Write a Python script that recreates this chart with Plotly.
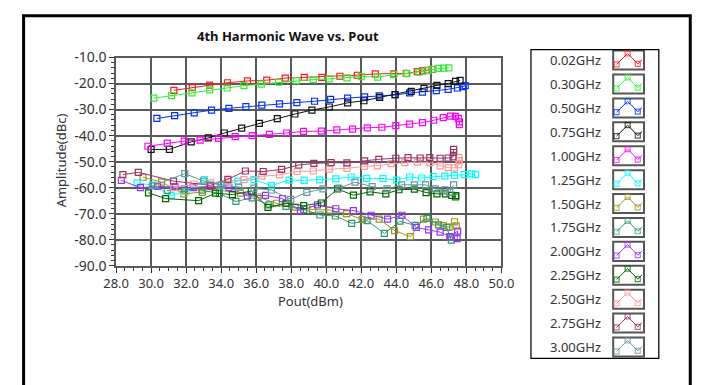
import plotly.graph_objects as go

W, H = 710, 385

labels = ["0.02GHz", "0.30GHz", "0.50GHz", "0.75GHz", "1.00GHz", "1.25GHz", "1.50GHz",
          "1.75GHz", "2.00GHz", "2.25GHz", "2.50GHz", "2.75GHz", "3.00GHz"]
colors = ["#ff1a1a", "#33ee33", "#0033ff", "#111111", "#ff00ff", "#00ffff", "#999922",
          "#33996a", "#9933ff", "#006600", "#ff9999", "#993366", "#669999"]

x_002 = [31.3, 32.35, 33.34, 34.36, 35.5, 36.6, 37.66, 38.74, 39.75, 40.78, 41.77, 42.8, 43.84, 44.57, 45.2, 45.5, 45.77, 46.04]
y_002 = [-22.6, -21.6, -20.6, -19.7, -19.0, -18.7, -17.9, -17.6, -17.6, -17.2, -16.8, -16.3, -16.3, -16.1, -15.4, -15.1, -14.9, -14.6]

x_030 = [30.15, 31.17, 32.33, 33.34, 34.34, 35.3, 36.29, 37.28, 38.29, 39.26, 40.17, 41.18, 42.0, 42.93, 43.85, 44.6, 45.3, 45.8, 46.1, 46.4, 46.7, 47.0]
y_030 = [-25.6, -24.6, -23.6, -22.4, -21.7, -20.8, -20.2, -19.5, -18.9, -18.5, -18.2, -17.8, -17.3, -17.5, -16.6, -16.2, -15.6, -15.0, -14.5, -14.2, -14.1, -14.0]

x_050 = [30.33, 31.34, 32.46, 33.45, 34.44, 35.41, 36.32, 37.33, 38.32, 39.33, 40.25, 41.22, 42.19, 43.02, 43.93, 44.76, 45.49, 46.28, 46.96, 47.49, 47.78, 47.93]
y_050 = [-33.4, -32.3, -31.3, -30.2, -29.5, -28.9, -28.3, -27.8, -27.3, -26.8, -26.1, -25.6, -25.1, -24.7, -24.4, -23.6, -23.3, -22.7, -22.2, -21.7, -21.2, -20.8]

x_075 = [30.0, 31.04, 32.29, 33.26, 34.18, 35.17, 36.18, 37.2, 38.21, 39.18, 40.17, 41.22, 42.15, 43.05, 43.93, 44.85, 45.58, 46.32, 46.96, 47.38, 47.64]
y_075 = [-45.3, -45.3, -42.4, -40.9, -39.0, -37.1, -35.3, -33.5, -31.7, -30.2, -29.0, -27.4, -26.6, -25.3, -24.2, -23.0, -21.9, -20.7, -20.0, -19.2, -18.8]

x_100 = [29.82, 30.92, 31.89, 32.8, 33.85, 34.8, 35.77, 36.75, 37.74, 38.7, 39.72, 40.6, 41.5, 42.34, 43.17, 43.97, 44.76, 45.49, 46.13, 46.68, 47.1, 47.38, 47.54, 47.6, 47.6]
y_100 = [-44.1, -42.9, -42.1, -41.7, -41.1, -40.4, -40.0, -39.5, -39.0, -38.4, -38.3, -37.8, -37.5, -37.0, -36.8, -36.2, -35.6, -35.0, -34.1, -33.1, -32.5, -32.6, -33.4, -34.7, -35.8]

x_125 = [29.2, 30.07, 31.15, 31.98, 33.03, 33.97, 34.95, 35.87, 36.87, 37.88, 38.74, 39.62, 40.54, 41.42, 42.3, 43.24, 44.02, 44.76, 45.44, 46.1, 46.77, 47.32, 47.87, 48.3, 48.52]
y_125 = [-58.2, -59.0, -63.0, -61.3, -56.9, -59.2, -57.5, -56.9, -59.2, -57.1, -57.2, -57.0, -56.6, -55.9, -56.4, -56.5, -57.1, -55.9, -56.3, -55.8, -55.6, -55.3, -55.0, -54.7, -55.0]

x_150 = [29.54, 30.6, 31.87, 32.93, 33.9, 35.1, 36.1, 37.15, 38.23, 39.22, 40.2, 41.16, 42.05, 43.02, 43.9, 44.8, 45.55, 46.23, 46.68, 47.01, 47.32, 47.42]
y_150 = [-56.0, -57.9, -62.4, -61.8, -61.0, -62.1, -63.6, -66.0, -67.5, -68.4, -68.6, -70.0, -72.2, -72.1, -76.5, -78.8, -72.1, -73.2, -74.6, -75.2, -73.1, -74.8]

x_175 = [30.92, 31.9, 32.9, 33.9, 34.84, 35.77, 36.72, 37.7, 38.71, 39.64, 40.52, 41.45, 42.33, 43.32, 44.2, 45.07, 45.75, 46.41, 46.87, 47.1, 47.14]
y_175 = [-61.1, -60.5, -61.0, -62.3, -65.3, -63.9, -66.6, -67.2, -68.4, -70.5, -70.9, -73.7, -72.7, -77.6, -72.9, -74.5, -71.8, -74.3, -75.3, -79.1, -80.2]

x_200 = [28.3, 29.39, 30.37, 31.37, 32.4, 33.37, 34.44, 35.5, 36.53, 37.5, 38.52, 39.5, 40.54, 41.55, 42.56, 43.5, 44.32, 45.14, 45.84, 46.5, 47.05, 47.5, 47.47]
y_200 = [-57.2, -60.0, -59.5, -59.7, -60.0, -59.5, -59.9, -63.2, -63.0, -64.2, -68.8, -66.6, -68.1, -68.8, -70.6, -72.1, -70.6, -75.3, -76.2, -77.1, -78.8, -76.7, -79.6]

x_225 = [29.85, 30.83, 32.71, 33.67, 34.64, 35.72, 36.67, 37.7, 38.71, 39.72, 40.64, 41.55, 42.5, 43.4, 44.15, 45.03, 45.7, 46.32, 46.8, 47.17, 47.38, 47.4]
y_225 = [-62.0, -64.2, -65.0, -62.1, -62.7, -61.3, -67.6, -66.0, -66.9, -65.9, -60.5, -62.9, -61.6, -62.4, -60.8, -60.6, -61.9, -62.4, -62.4, -63.0, -63.6, -63.1]

x_250 = [31.3, 32.45, 33.4, 34.4, 35.3, 36.32, 37.33, 38.34, 39.26, 40.17, 41.18, 42.19, 42.92, 43.71, 44.48, 45.21, 45.91, 46.5, 46.96, 47.32, 47.56, 47.6, 47.56]
y_250 = [-60.0, -58.6, -58.2, -57.6, -56.9, -55.6, -55.1, -53.8, -53.6, -52.9, -52.6, -51.8, -51.6, -50.8, -50.4, -50.2, -50.4, -51.6, -52.3, -52.4, -51.2, -49.6, -48.4]

x_275 = [28.39, 29.27, 31.28, 33.39, 34.38, 35.38, 36.4, 37.45, 38.43, 39.29, 40.27, 41.18, 42.19, 43.0, 43.97, 44.67, 45.36, 45.91, 46.5, 46.96, 47.24, 47.27, 47.27]
y_275 = [-55.0, -54.1, -57.5, -59.1, -56.8, -53.6, -53.8, -53.0, -51.3, -50.7, -50.4, -50.5, -49.7, -49.1, -48.7, -48.5, -48.6, -48.5, -48.7, -48.6, -48.2, -46.5, -45.3]

x_300 = [30.1, 31.92, 33.0, 34.0, 35.0, 35.87, 36.87, 37.97, 38.89, 39.81, 40.72, 41.64, 42.62, 43.47, 44.3, 45.03, 45.67, 46.23, 46.77, 47.05, 47.27]
y_300 = [-59.3, -54.6, -57.5, -59.0, -59.8, -60.2, -60.9, -64.5, -61.8, -60.5, -60.2, -57.9, -59.6, -60.5, -58.9, -58.9, -58.9, -60.5, -60.8, -61.7, -58.9]

xs = [x_002, x_030, x_050, x_075, x_100, x_125, x_150, x_175, x_200, x_225, x_250, x_275, x_300]
ys = [y_002, y_030, y_050, y_075, y_100, y_125, y_150, y_175, y_200, y_225, y_250, y_275, y_300]

x_ticks = [28, 30, 32, 34, 36, 38, 40, 42, 44, 46, 48, 50]
x_ticktext = ["28.0", "30.0", "32.0", "34.0", "36.0", "38.0", "40.0", "42.0", "44.0", "46.0", "48.0", "50.0"]
y_ticks = [-90, -80, -70, -60, -50, -40, -30, -20, -10]
y_ticktext = ["-90.0", "-80.0", "-70.0", "-60.0", "-50.0", "-40.0", "-30.0", "-20.0", "-10.0"]

# layout geometry (pixels)
PL, PR, PT, PB = 107, 507, 50, 269
LG_L, LG_R, LG_T, LG_B = 537, 671, 41, 367
FONT = "Noto Sans"
TXT = "#333333"

fig = go.Figure()

for i in range(len(labels)):
    fig.add_trace(go.Scatter(
        x=xs[i], y=ys[i], mode="lines+markers", name=labels[i], showlegend=False,
        line=dict(color=colors[i], width=1),
        marker=dict(symbol="square-open", size=6, color=colors[i], line=dict(width=1.2)),
        xaxis="x", yaxis="y"))

# custom legend (text left, icon right) drawn on a helper axis in pixel units
ROW0, ROWSTEP = 52.7, 25.15
icon_dx = [626.5, 638.0, 648.5, 653.0]
icon_dy = [4.5, -7.0, 4.0, -0.5]
shapes = []
annotations = []
for i, lab in enumerate(labels):
    yc = ROW0 + ROWSTEP * i
    shapes.append(dict(type="rect", xref="x2", yref="y2", x0=623, x1=655, y0=yc - 10, y1=yc + 10,
                       line=dict(color="#555555", width=2), fillcolor="white", layer="below"))
    fig.add_trace(go.Scatter(
        x=icon_dx, y=[yc + d for d in icon_dy], mode="lines+markers", showlegend=False,
        line=dict(color=colors[i], width=1),
        marker=dict(symbol="square-open", size=[5, 5, 5, 0], color=colors[i], line=dict(width=1.2)),
        xaxis="x2", yaxis="y2", hoverinfo="skip"))
    annotations.append(dict(text=lab, x=612, y=yc, xref="x2", yref="y2", xanchor="right",
                            yanchor="middle", showarrow=False,
                            font=dict(family=FONT, size=13, color=TXT)))

shapes.append(dict(type="rect", xref="x2", yref="y2", x0=LG_L, x1=LG_R, y0=LG_T, y1=LG_B,
                   line=dict(color="black", width=2.5), layer="below"))
# outer frame
shapes.append(dict(type="rect", xref="paper", yref="paper", x0=11 / W, x1=703 / W,
                   y0=-0.05, y1=(H - 6) / H, line=dict(color="black", width=3)))

annotations.append(dict(text="<b>4th Harmonic Wave vs. Pout</b>", x=285 / W, y=(H - 27) / H,
                        xref="paper", yref="paper", showarrow=False, xanchor="center", yanchor="middle",
                        font=dict(family=FONT, size=13, color="#111111")))
annotations.append(dict(text="Amplitude(dBc)", x=50 / W, y=(H - 158) / H, xref="paper", yref="paper",
                        showarrow=False, textangle=-90, xanchor="center", yanchor="middle",
                        font=dict(family=FONT, size=13, color=TXT)))
annotations.append(dict(text="Pout(dBm)", x=309 / W, y=(H - 306) / H, xref="paper", yref="paper",
                        showarrow=False, xanchor="center", yanchor="middle",
                        font=dict(family=FONT, size=13, color=TXT)))

GRID = "#5a5a5a"
fig.update_layout(
    width=W, height=H, margin=dict(l=0, r=0, t=0, b=0),
    paper_bgcolor="white", plot_bgcolor="white",
    showlegend=False,
    xaxis=dict(domain=[PL / W, PR / W], range=[28, 50], tickmode="array", tickvals=x_ticks,
               ticktext=x_ticktext, ticks="outside", ticklen=5, tickcolor="#333", tickwidth=1,
               showgrid=True, gridcolor=GRID, gridwidth=1.6, zeroline=False,
               showline=True, linecolor=GRID, linewidth=1.6, mirror=True,
               minor=dict(dtick=0.5, tick0=28, ticks="outside", ticklen=3, tickcolor="#333", showgrid=False),
               tickfont=dict(family=FONT, size=13, color=TXT), anchor="y", fixedrange=True),
    yaxis=dict(domain=[(H - PB) / H, (H - PT) / H], range=[-90, -10], tickmode="array", tickvals=y_ticks,
               ticktext=y_ticktext, ticks="outside", ticklen=5, tickcolor="#333", tickwidth=1,
               showgrid=True, gridcolor=GRID, gridwidth=1.6, zeroline=False,
               showline=True, linecolor=GRID, linewidth=1.6, mirror=True,
               minor=dict(dtick=2, tick0=-90, ticks="outside", ticklen=3, tickcolor="#333", showgrid=False),
               tickfont=dict(family=FONT, size=14, color=TXT), anchor="x", fixedrange=True),
    xaxis2=dict(domain=[LG_L / W, LG_R / W], range=[LG_L, LG_R], visible=False, anchor="y2", fixedrange=True),
    yaxis2=dict(domain=[(H - LG_B) / H, (H - LG_T) / H], range=[LG_B, LG_T], visible=False, anchor="x2",
                fixedrange=True),
    shapes=shapes, annotations=annotations,
)

fig.write_html("out.html")
